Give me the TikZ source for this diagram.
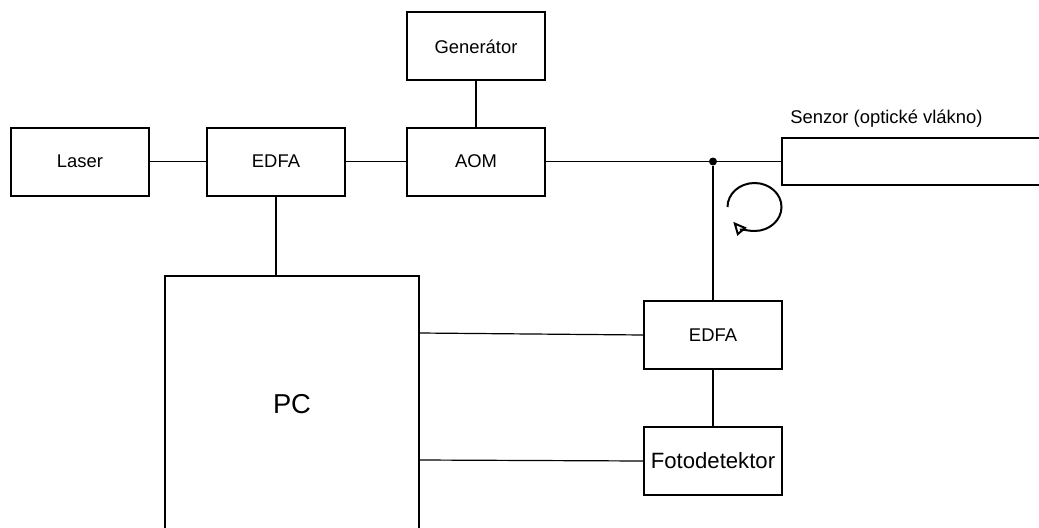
\documentclass[tikz,border=0pt]{standalone}
\usepackage{fontspec}
\setmainfont{Liberation Sans}
\usetikzlibrary{arrows.meta}
\tikzset{
  blocknode/.style = {align=center, inner sep=0pt, text centered, rectangle,
    draw=black, line width=1.5pt, minimum width=103.5pt, minimum height=51pt,
    font=\fontsize{13.8}{16}\selectfont},
  wide_node/.style = {blocknode, font=\fontsize{16.6}{19}\selectfont},
  pc_node/.style = {blocknode, minimum width=190.5pt, minimum height=198pt},
  sensor_node/.style = {blocknode, minimum width=201pt, minimum height=35.25pt},
  label_node/.style = {inner sep=0pt, font=\fontsize{13.8}{16}\selectfont},
  junction_node/.style = {circle, fill=black, inner sep=0pt, minimum size=6pt},
  wire/.style = {line width=0.9pt}
}
\begin{document}
\begin{tikzpicture}[x=0.75pt, y=-0.75pt]
      \useasboundingbox (0,0) rectangle (1039,528);
      \clip (0,0) rectangle (1039,528);
      \node [blocknode] (laser) at (80,161.5) {Laser};
      \node [blocknode] (edfa1) at (276,161.5) {EDFA};
      \node [blocknode] (aom) at (476,161.5) {AOM};
      \node [blocknode] (generator) at (476,46.5) {Generátor};
      \node [pc_node] (pc) at (292,408) {};
      \node [label_node] (pclabel) at (292,404) {\fontsize{20.5}{24}\selectfont PC};
      \node [blocknode] (edfa2) at (713,335) {EDFA};
      \node [wide_node] (foto) at (713,461) {Fotodetektor};
      \node [sensor_node] (sensor) at (916,161.5) {};
      \node [label_node, anchor=west] (sensorlabel) at (790,119) {Senzor (optické vlákno)};
      \node [junction_node] (split) at (713,161.5) {};
      \coordinate (pcA) at (419,333);
      \coordinate (pcB) at (419,460);
      \draw [wire] (laser) -- (edfa1);
      \draw [wire] (edfa1) -- (aom);
      \draw [wire] (aom) -- (sensor);
      \draw [wire] (generator) -- (aom);
      \draw [wire] (edfa1.south) -- (edfa1.south |- pc.north);
      \draw [wire] (split) -- (edfa2);
      \draw [wire] (edfa2) -- (foto);
      \draw [wire] (pcA) -- (edfa2.west);
      \draw [wire] (pcB) -- (foto.west);
      % smycka
      \draw [line width=1.5pt, -{Triangle[open, length=10pt, width=9pt]}] (727.5,207)
        arc [start angle=180, end angle=-142, x radius=20.25pt, y radius=18pt];
    \end{tikzpicture}
\end{document}
